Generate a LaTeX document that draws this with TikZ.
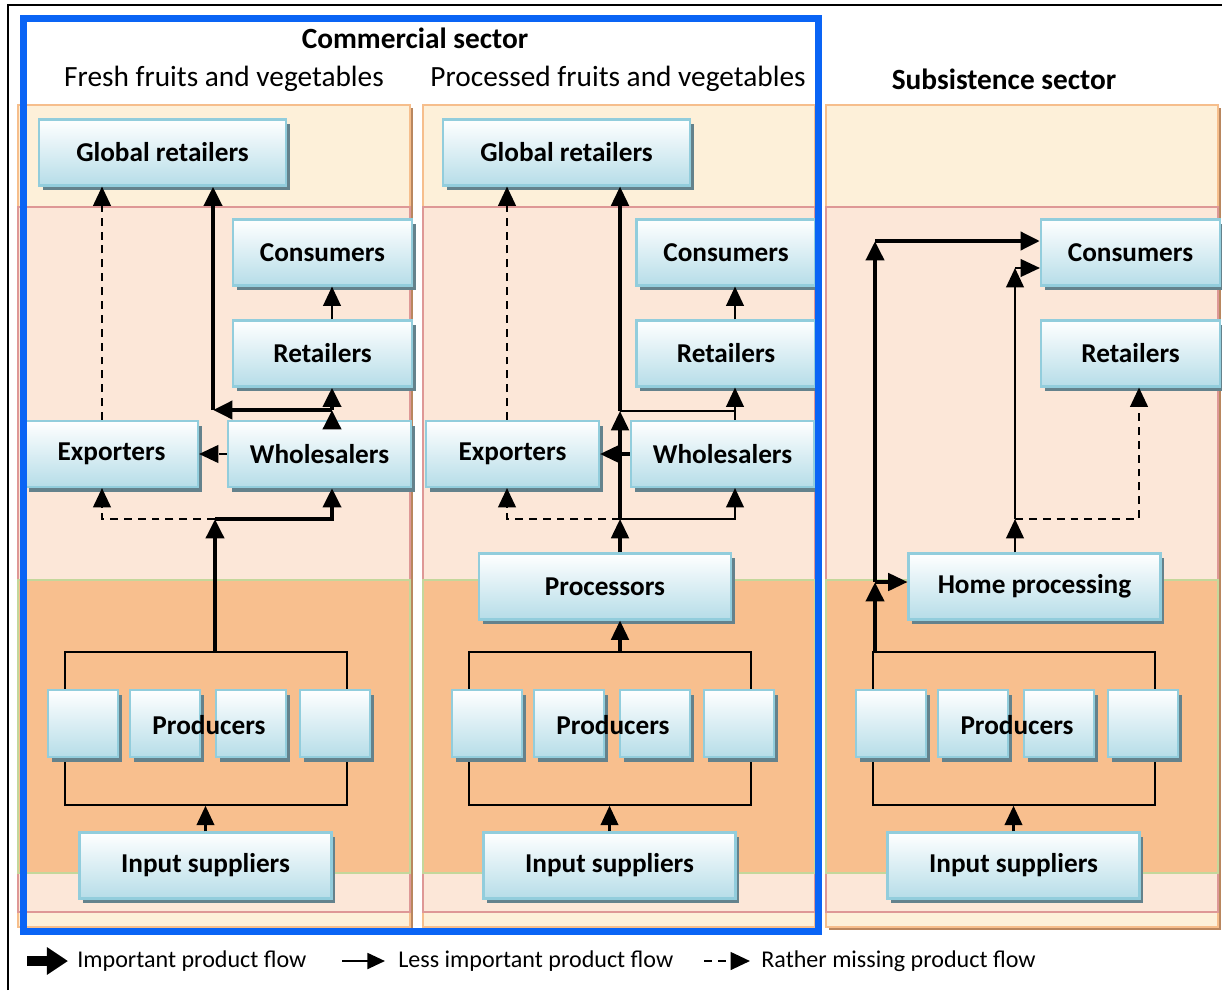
\documentclass[tikz,border=0pt]{standalone}
\usepackage{fontspec}
\setmainfont{Carlito}
\usetikzlibrary{arrows.meta,shadows}

\definecolor{creamfill}{RGB}{253,240,217}
\definecolor{creamedge}{RGB}{246,190,140}
\definecolor{creamshade}{RGB}{185,135,95}
\definecolor{pinkfill}{RGB}{252,231,216}
\definecolor{pinkedge}{RGB}{222,152,150}
\definecolor{orangefill}{RGB}{248,191,142}
\definecolor{greenedge}{RGB}{196,215,155}
\definecolor{boxblue}{RGB}{182,221,232}
\definecolor{boxedge}{RGB}{146,205,220}
\definecolor{boxshade}{RGB}{100,130,140}
\definecolor{sectorblue}{RGB}{10,100,245}

\begin{document}
\begin{tikzpicture}[x=0.02cm,y=-0.02cm,
    box/.style={draw=boxedge,line width=1.2pt,top color=white,bottom color=boxblue,
      inner sep=0pt,minimum height=1.32cm,font=\bfseries\fontsize{15.5}{18}\selectfont,
      general shadow={fill=boxshade,shadow xshift=2.2pt,shadow yshift=-2.8pt}},
    wbox/.style={box,minimum width=5.04cm},
    nbox/.style={box,minimum width=3.58cm},
    sbox/.style={box,minimum width=1.4cm,minimum height=1.34cm},
    pframe/.style={draw,line width=0.9pt,inner sep=0pt,minimum width=5.64cm,minimum height=3.06cm},
    cream/.style={fill=creamfill,draw=creamedge,line width=1.1pt,
      general shadow={fill=creamshade,shadow xshift=1.6pt,shadow yshift=-1.6pt}},
    pinkband/.style={fill=pinkfill,draw=pinkedge,line width=1.1pt},
    orangeband/.style={fill=orangefill,draw=greenedge,line width=1.1pt},
    head/.style={font=\fontsize{16.7}{19}\selectfont},
    bhead/.style={font=\bfseries\fontsize{16.7}{19}\selectfont},
    imp/.style={line width=2.8pt,-{Triangle[length=11pt,width=10pt]}},
    mid/.style={line width=1.8pt,-{Triangle[length=11pt,width=10pt]}},
    less/.style={line width=1.25pt,-{Triangle[length=11pt,width=10pt]}},
    miss/.style={line width=1.4pt,dash pattern=on 4.5pt off 3.4pt,-{Triangle[length=11pt,width=10pt]}},
    legtext/.style={anchor=west,inner sep=0pt,font=\fontsize{13.7}{16}\selectfont}]
  \useasboundingbox (0,0) rectangle (1222,990);

  % frame of the page
  \draw[line width=1.1pt] (8,990) -- (8,5) -- (1222,5);

  % coloured bands of the three columns
  \foreach \dx in {0,405,808}{
    \filldraw[cream] (18+\dx,105) rectangle (410+\dx,927);
    \filldraw[pinkband] (18+\dx,207) rectangle (410+\dx,912);
    \filldraw[orangeband] (18+\dx,580) rectangle (410+\dx,873);
  }

  % producers and input suppliers (same in every column)
  \foreach \dx [count=\i] in {0,404,808}{
    \node[pframe] (pf\i) at (206+\dx,728.5) {};
    \node[sbox] (pa\i) at (83+\dx,723.5) {};
    \node[sbox] (pb\i) at (165+\dx,723.5) {};
    \node[sbox] (pc\i) at (251+\dx,723.5) {};
    \node[sbox] (pd\i) at (335+\dx,723.5) {};
    \node[font=\bfseries\fontsize{15.5}{18}\selectfont] (pt\i) at (209+\dx,725) {Producers};
    \node[wbox] (in\i) at (205.5+\dx,865.5) {Input suppliers};
    \draw[less] (in\i.north) -- (in\i.north |- pf\i.south);
  }

  % headings
  \node[bhead] (hc) at (415,38) {Commercial sector};
  \node[head] (hf) at (224,79) {Fresh fruits and vegetables};
  \node[head] (hpr) at (618,79) {Processed fruits and vegetables};
  \node[bhead] (hs) at (1004,79) {Subsistence sector};

  % fresh fruits and vegetables
  \node[wbox,minimum width=4.94cm] (gr1) at (162.5,152.5) {Global retailers};
  \node[nbox] (co1) at (322.5,252.5) {Consumers};
  \node[nbox] (re1) at (322.5,353.5) {Retailers};
  \node[nbox,minimum width=3.46cm] (ex1) at (111.5,454) {Exporters};
  \node[nbox,minimum width=3.66cm] (wh1) at (319.5,454) {Wholesalers};

  \coordinate (xa) at (332,0);
  \coordinate (xb) at (102,0);
  \coordinate (j1) at (215,519);
  \coordinate (j2) at (332,410);
  \coordinate (j3) at (213,410);
  \draw[imp] (j1 |- pf1.north) -- (j1);
  \draw[imp] (j1) -| (xa |- wh1.south);
  \draw[miss] (j1) -| (xb |- ex1.south);
  \draw[miss] (wh1.west) -- (ex1.east);
  \draw[imp] (xa |- wh1.north) -- (j2);
  \draw[imp] (j2) -- (xa |- re1.south);
  \draw[imp] (j2) -- (j3);
  \draw[imp] (j3) -- (j3 |- gr1.south);
  \draw[less] (xa |- re1.north) -- (xa |- co1.south);
  \draw[miss] (xb |- ex1.north) -- (xb |- gr1.south);

  % processed fruits and vegetables
  \node[wbox,minimum width=4.94cm] (gr2) at (566.5,152.5) {Global retailers};
  \node[nbox] (co2) at (726,252.5) {Consumers};
  \node[nbox] (re2) at (726,353.5) {Retailers};
  \node[nbox,minimum width=3.46cm] (ex2) at (512.5,454) {Exporters};
  \node[nbox,minimum width=3.66cm] (wh2) at (722.5,454) {Wholesalers};
  \node[wbox] (pc) at (605,586.5) {Processors};

  \coordinate (xc) at (735,0);
  \coordinate (xd) at (507,0);
  \coordinate (k1) at (620,519);
  \coordinate (k2) at (620,411);
  \draw[mid] (k1 |- pf2.north) -- (k1 |- pc.south);
  \draw[mid] (k1 |- pc.north) -- (k1);
  \draw[miss] (k1) -| (xd |- ex2.south);
  \draw[less] (k1) -| (xc |- wh2.south);
  \draw[mid] (k1) -- (k2);
  \draw[mid] (k2) -- (k2 |- gr2.south);
  \draw[line width=1.1pt] (k2) -- (xc |- k2);
  \draw[less] (xc |- wh2.north) -- (xc |- re2.south);
  \draw[less] (xc |- re2.north) -- (xc |- co2.south);
  \draw[mid] (wh2.west) -- (ex2.east);
  \draw[miss] (xd |- ex2.north) -- (xd |- gr2.south);

  % subsistence sector
  \node[nbox] (co3) at (1130.5,252.5) {Consumers};
  \node[nbox] (re3) at (1130.5,353.5) {Retailers};
  \node[wbox] (hm) at (1034.5,586.5) {Home processing};

  \coordinate (m1) at (875,582);
  \coordinate (m2) at (875,241);
  \coordinate (n1) at (1015,519);
  \coordinate (n2) at (1015,268);
  \coordinate (xe) at (1139,0);
  \draw[imp] (m1 |- pf3.north) -- (m1);
  \draw[mid] (m1) -- (m1 -| hm.west);
  \draw[imp] (m1) -- (m2);
  \draw[imp] (m2) -- (m2 -| co3.west);
  \draw[less] (n1 |- hm.north) -- (n1);
  \draw[less] (n1) -- (n2);
  \draw[less] (n2) -- (n2 -| co3.west);
  \draw[miss] (n1) -| (xe |- re3.south);

  % commercial sector
  \draw[sectorblue,line width=4pt] (23.5,18.5) rectangle (818,931);

  % legend
  \coordinate (la1) at (27,961);
  \coordinate (lb1) at (68,961);
  \coordinate (la2) at (342,961);
  \coordinate (lb2) at (385,961);
  \coordinate (la3) at (704,961);
  \coordinate (lb3) at (750,961);
  \draw[line width=5.5pt,-{Triangle[length=12pt,width=15pt]}] (la1) -- (lb1);
  \draw[line width=1.4pt,-{Triangle[length=10pt,width=9pt]}] (la2) -- (lb2);
  \draw[miss] (la3) -- (lb3);
  \node[legtext] (lg1) at (77,961) {Important product flow};
  \node[legtext] (lg2) at (398,961) {Less important product flow};
  \node[legtext] (lg3) at (761,961) {Rather missing product flow};
\end{tikzpicture}
\end{document}
